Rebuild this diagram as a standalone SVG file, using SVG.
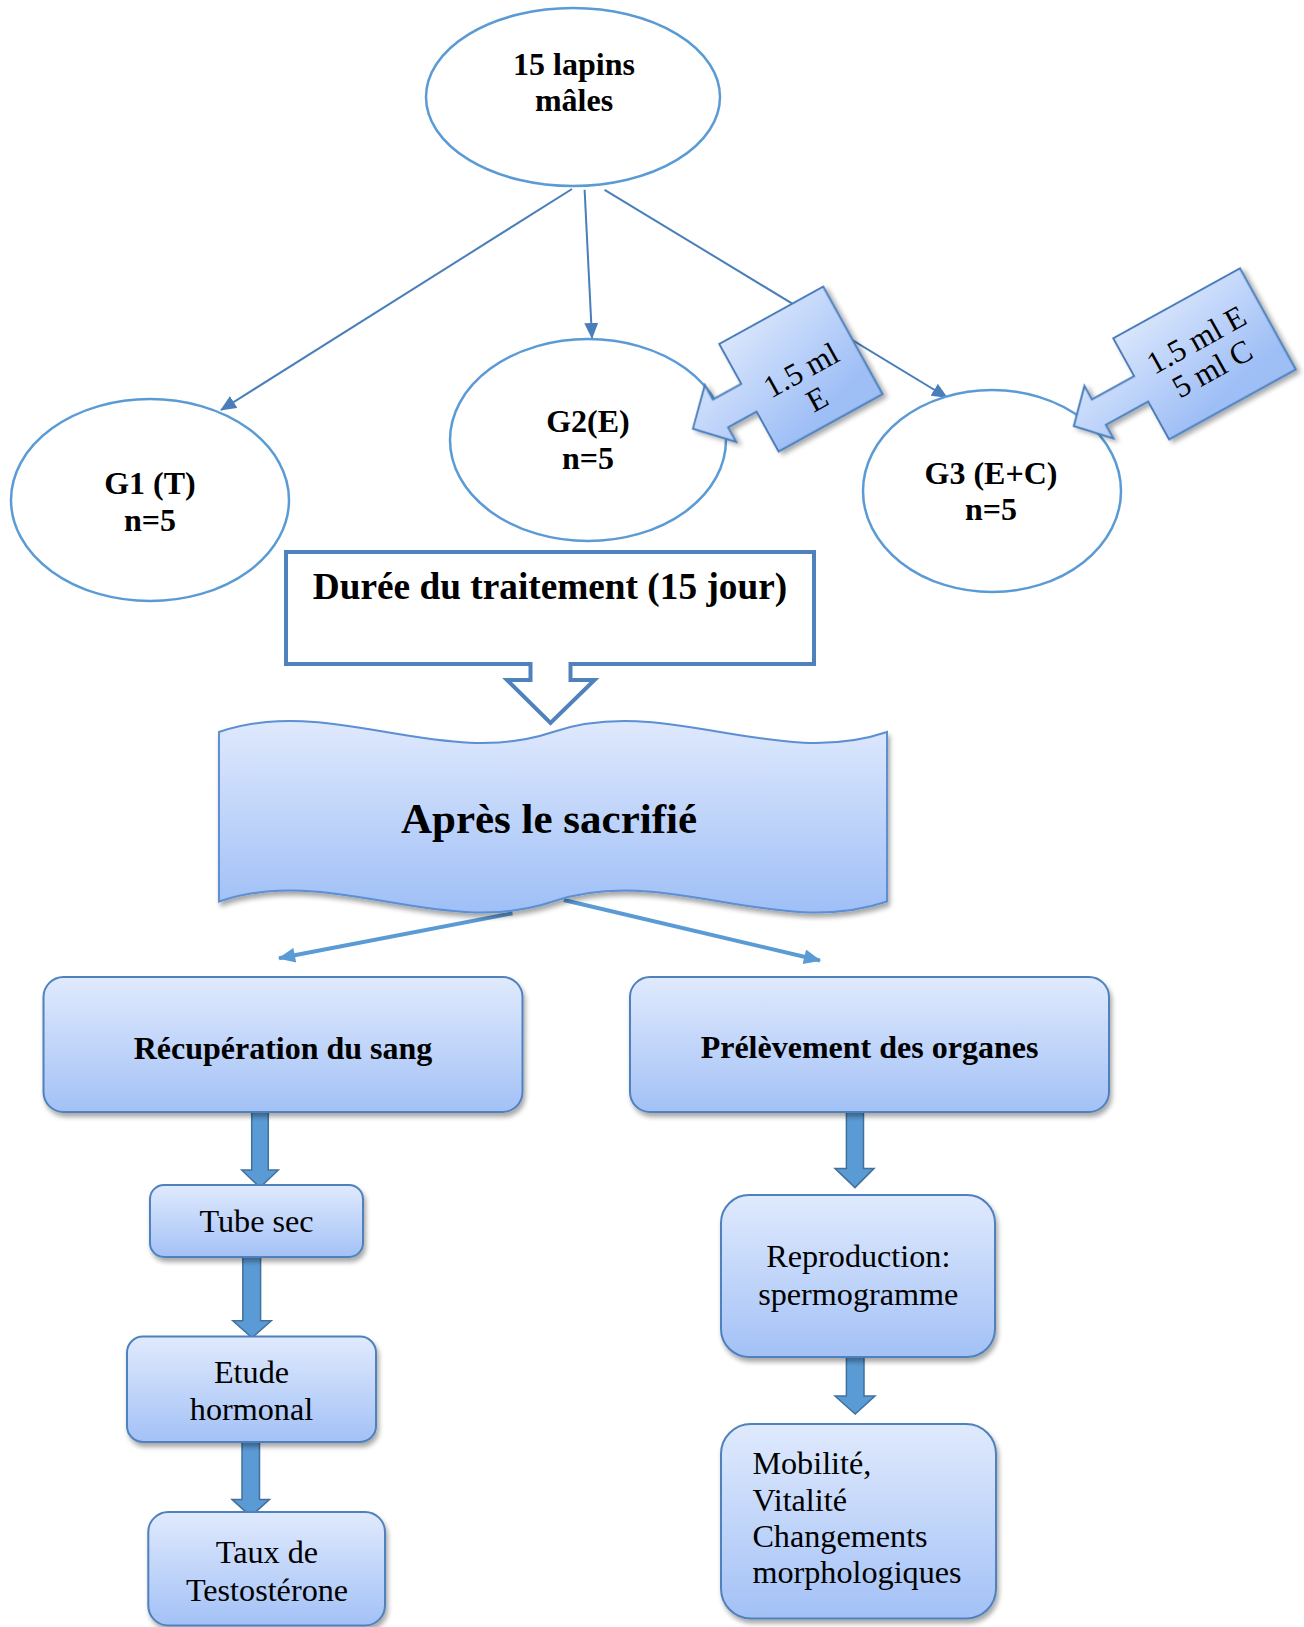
<svg xmlns="http://www.w3.org/2000/svg" width="1304" height="1627" viewBox="0 0 1304 1627">
<defs>
<style>
.t{font-family:"Liberation Serif","Times New Roman",serif;fill:#000;text-anchor:middle}
.b{font-weight:bold}
.ell{fill:#fff;stroke:#5b9bd5;stroke-width:2.5}
.con{stroke:#4a7ebb;stroke-width:2;fill:none}
.wcon{stroke:#5b9bd5;stroke-width:4;fill:none}
.box{fill:url(#gb);stroke:#4f81bd;stroke-width:2}
.call{fill:url(#gc);stroke:#4a7ebb;stroke-width:2}
.thick{fill:#5b9bd5;stroke:#41719c;stroke-width:1.5}
</style>
<linearGradient id="gb" x1="0" y1="0" x2="0" y2="1">
<stop offset="0" stop-color="#e0eafd"/>
<stop offset="1" stop-color="#a3c1f6"/>
</linearGradient>
<linearGradient id="gw" x1="0" y1="0" x2="0" y2="1">
<stop offset="0" stop-color="#dfe9fd"/>
<stop offset="1" stop-color="#9fbff6"/>
</linearGradient>
<linearGradient id="gc" x1="0" y1="0" x2="0.45" y2="1">
<stop offset="0" stop-color="#e2ecfd"/>
<stop offset="1" stop-color="#9ebef6"/>
</linearGradient>
<filter id="sh" x="-15%" y="-15%" width="135%" height="145%">
<feGaussianBlur in="SourceAlpha" stdDeviation="2.5"/>
<feOffset dx="2" dy="4" result="o"/>
<feComponentTransfer><feFuncA type="linear" slope="0.35"/></feComponentTransfer>
<feMerge><feMergeNode/><feMergeNode in="SourceGraphic"/></feMerge>
</filter>
<marker id="ah" viewBox="0 0 16 14" markerWidth="16" markerHeight="14" refX="15" refY="7" orient="auto" markerUnits="userSpaceOnUse">
<path d="M0,0 L16,7 L0,14 z" fill="#4a7ebb"/>
</marker>
<marker id="ahw" viewBox="0 0 16 14" markerWidth="18" markerHeight="15" refX="15" refY="7" orient="auto" markerUnits="userSpaceOnUse">
<path d="M0,0 L16,7 L0,14 z" fill="#5b9bd5"/>
</marker>
</defs>

<g id="connectors">
<line class="con" x1="572" y1="189" x2="221" y2="410" marker-end="url(#ah)"/>
<line class="con" x1="584.6" y1="189.8" x2="592" y2="338" marker-end="url(#ah)"/>
<line class="con" x1="604.6" y1="189.8" x2="947" y2="397.5" marker-end="url(#ah)"/>
<line class="wcon" x1="512.5" y1="913.3" x2="279" y2="958.3" marker-end="url(#ahw)"/>
<line class="wcon" x1="563.8" y1="900" x2="820" y2="960.5" marker-end="url(#ahw)"/>
<path class="thick" d="M251.7,1112 H268.3 V1170 H278.3 L260,1187.5 L241.7,1170 H251.7 Z"/>
<path class="thick" d="M242.8,1257 H260.6 V1320.7 H271.3 L252,1337.8 L232.8,1320.7 H242.8 Z"/>
<path class="thick" d="M242,1442 H259.5 V1499.4 H269.5 L250.8,1516.4 L232,1499.4 H242 Z"/>
<path class="thick" d="M846.4,1112 H863.5 V1168.4 H874 L855,1187.6 L835,1168.4 H846.4 Z"/>
<path class="thick" d="M846.4,1357 H864 V1396 H875 L855.2,1414 L835,1396 H846.4 Z"/>
</g>

<g id="n-lapins">
<ellipse class="ell" cx="573" cy="97" rx="147" ry="89"/>
<text class="t b" x="574" y="75" font-size="32">15 lapins</text>
<text class="t b" x="574" y="111" font-size="32">mâles</text>
</g>

<g id="n-g1">
<ellipse class="ell" cx="150" cy="500" rx="139" ry="101"/>
<text class="t b" x="150" y="494" font-size="32">G1 (T)</text>
<text class="t b" x="150" y="530.5" font-size="32">n=5</text>
</g>

<g id="n-g2">
<ellipse class="ell" cx="588" cy="440" rx="138" ry="101"/>
<text class="t b" x="588" y="431.5" font-size="32">G2(E)</text>
<text class="t b" x="588" y="469" font-size="32">n=5</text>
</g>

<g id="n-g3">
<ellipse class="ell" cx="992" cy="491" rx="129" ry="101"/>
<text class="t b" x="991" y="483.5" font-size="32">G3 (E+C)</text>
<text class="t b" x="991" y="520" font-size="32">n=5</text>
</g>

<g id="c-dose1" transform="translate(719.3,344) rotate(-28.9)">
<path class="call" filter="url(#sh)" d="M0,0 H118.7 V122.8 H0 V77.3 H-32.5 V94 L-64,61.4 L-32.5,29 V45.5 H0 Z"/>
<text class="t" x="59" y="73" font-size="31.5">1.5 ml</text>
<text class="t" x="59" y="106" font-size="31.5">E</text>
</g>

<g id="c-dose2" transform="translate(1113.3,338.3) rotate(-28.9)">
<path class="call" filter="url(#sh)" d="M0,0 H144.7 V115.5 H0 V72.3 H-48.3 V87.8 L-77,57.75 L-48.3,27.7 V43.2 H0 Z"/>
<text class="t" x="72" y="52" font-size="31.5">1.5 ml E</text>
<text class="t" x="72" y="85" font-size="31.5">5 ml C</text>
</g>

<g id="n-duree">
<path d="M286,552 H814 V664 H570.5 V680 H594.5 L550.5,723 L507,680 H530.5 V664 H286 Z" fill="#fff" stroke="#4f81bd" stroke-width="4" stroke-linejoin="miter"/>
<text class="t b" x="550" y="599" font-size="37.3">Durée du traitement (15 jour)</text>
</g>

<g id="n-sacrifie">
<path filter="url(#sh)" fill="url(#gw)" stroke="#5b8fd3" stroke-width="2" d="M219,732 C330.3,694 441.7,770 553,732 C664.3,694 775.7,770 887,732 L887,901.5 C775.7,939.5 664.3,863.5 553,901.5 C441.7,939.5 330.3,863.5 219,901.5 Z"/>
<text class="t b" x="549" y="833" font-size="43">Après le sacrifié</text>
</g>

<g id="n-sang">
<rect class="box" filter="url(#sh)" x="43.5" y="977" width="479" height="135" rx="20"/>
<text class="t b" x="283" y="1058.5" font-size="32">Récupération du sang</text>
</g>

<g id="n-organes">
<rect class="box" filter="url(#sh)" x="630" y="977" width="479" height="135" rx="20"/>
<text class="t b" x="869.5" y="1057.5" font-size="32">Prélèvement des organes</text>
</g>

<g id="n-tube">
<rect class="box" filter="url(#sh)" x="150" y="1185" width="213" height="72" rx="14"/>
<text class="t" x="256.5" y="1232" font-size="32.2">Tube sec</text>
</g>

<g id="n-etude">
<rect class="box" filter="url(#sh)" x="127" y="1336.5" width="249" height="105.5" rx="16"/>
<text class="t" x="251.5" y="1382.5" font-size="32.2">Etude</text>
<text class="t" x="251.5" y="1419.5" font-size="32.2">hormonal</text>
</g>

<g id="n-taux">
<rect class="box" filter="url(#sh)" x="148.3" y="1512" width="236.7" height="113.5" rx="20"/>
<text class="t" x="267" y="1563" font-size="32.2">Taux de</text>
<text class="t" x="267" y="1601" font-size="32.2">Testostérone</text>
</g>

<g id="n-repro">
<rect class="box" filter="url(#sh)" x="721" y="1195" width="274" height="162" rx="28"/>
<text class="t" x="858.3" y="1267" font-size="32.2">Reproduction:</text>
<text class="t" x="858.3" y="1304.5" font-size="32.2">spermogramme</text>
</g>

<g id="n-mobilite">
<rect class="box" filter="url(#sh)" x="721" y="1424" width="275" height="194.5" rx="30"/>
<text class="t" x="752.4" y="1474" font-size="32.2" style="text-anchor:start">Mobilité,</text>
<text class="t" x="752.4" y="1511" font-size="32.2" style="text-anchor:start">Vitalité</text>
<text class="t" x="752.4" y="1547" font-size="32.2" style="text-anchor:start">Changements</text>
<text class="t" x="752.4" y="1583" font-size="32.2" style="text-anchor:start">morphologiques</text>
</g>
</svg>
